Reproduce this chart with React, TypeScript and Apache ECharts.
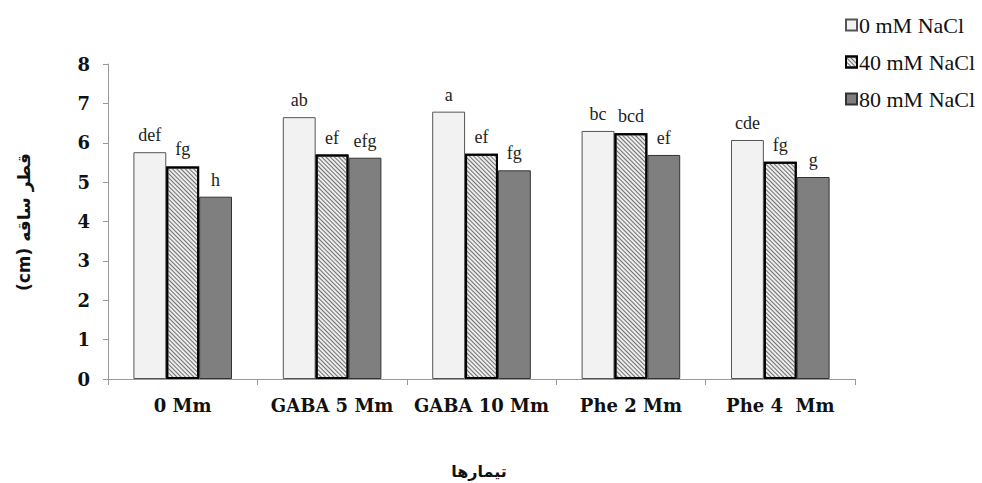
import React, { useEffect, useRef } from 'react';
import * as echarts from 'echarts';

const categories = ['0 Mm', 'GABA 5 Mm', 'GABA 10 Mm', 'Phe 2 Mm', 'Phe 4  Mm'];
const seriesNames = ['0 mM NaCl', '40 mM NaCl', '80 mM NaCl'];
const values0 = [5.76, 6.65, 6.79, 6.3, 6.07];
const values40 = [5.4, 5.7, 5.72, 6.24, 5.52];
const values80 = [4.63, 5.62, 5.3, 5.69, 5.13];
const letters0 = ['def', 'ab', 'a', 'bc', 'cde'];
const letters40 = ['fg', 'ef', 'ef', 'bcd', 'fg'];
const letters80 = ['h', 'efg', 'fg', 'ef', 'g'];
const yAxisTitle = '(cm) قطر ساقه';
const xAxisTitle = 'تیمارها';

const serif = "'Liberation Serif', 'Times New Roman', serif";
const boldSerif = "'DejaVu Serif', serif";

function App() {
  const ref = useRef<HTMLDivElement>(null);
  useEffect(() => {
    if (!ref.current) return;
    const chart = echarts.init(ref.current, null, { renderer: 'svg' });
    const mkLabel = (letters: string[]) => ({
      show: true,
      position: 'top',
      distance: 8,
      fontFamily: serif,
      fontSize: 18,
      color: '#222',
      formatter: (p: any) => letters[p.dataIndex],
    });
    chart.setOption({
      animation: false,
      backgroundColor: '#fff',
      grid: { left: 108, right: 127, top: 64, bottom: 104 },
      legend: {
        orient: 'vertical',
        left: 845,
        top: 14,
        itemWidth: 11,
        itemHeight: 11,
        itemGap: 15,
        padding: 0,
        icon: 'rect',
        textStyle: { fontFamily: serif, fontSize: 22, color: '#111', padding: [0, 0, 0, -3] },
        data: seriesNames,
      },
      xAxis: {
        type: 'category',
        data: categories,
        axisLine: { lineStyle: { color: '#9a9a9a', width: 1 } },
        axisTick: { show: true, length: 6, lineStyle: { color: '#9a9a9a' } },
        axisLabel: { interval: 0, fontFamily: boldSerif, fontSize: 18, fontWeight: 'bold', color: '#111', margin: 17 },
      },
      yAxis: {
        type: 'value',
        min: 0,
        max: 8,
        interval: 1,
        splitLine: { show: false },
        axisLine: { show: true, lineStyle: { color: '#9a9a9a', width: 1 } },
        axisTick: { show: true, length: 5, lineStyle: { color: '#9a9a9a' } },
        axisLabel: { fontFamily: boldSerif, fontSize: 18, fontWeight: 'bold', color: '#111', margin: 18 },
      },
      graphic: [
        {
          type: 'text',
          x: 24,
          y: 222,
          rotation: Math.PI / 2,
          style: {
            text: yAxisTitle,
            fontFamily: "'DejaVu Sans', sans-serif",
            fontSize: 17,
            fontWeight: 'bold',
            fill: '#111',
            textAlign: 'center',
            textVerticalAlign: 'middle',
          },
        },
        {
          type: 'text',
          x: 479,
          y: 471,
          style: {
            text: xAxisTitle,
            fontFamily: "'DejaVu Sans', sans-serif",
            fontSize: 16,
            fontWeight: 'bold',
            fill: '#111',
            textAlign: 'center',
            textVerticalAlign: 'middle',
          },
        },
      ],
      series: [
        {
          name: seriesNames[0],
          type: 'bar',
          data: values0,
          barGap: '0%',
          barCategoryGap: '34%',
          itemStyle: { color: '#f2f2f2', borderColor: '#555', borderWidth: 1 },
          label: mkLabel(letters0),
        },
        {
          name: seriesNames[1],
          type: 'bar',
          data: values40,
          barGap: '0%',
          barCategoryGap: '34%',
          itemStyle: {
            color: '#ececec',
            borderColor: '#000',
            borderWidth: 2,
            decal: {
              symbol: 'rect',
              symbolSize: 1,
              dashArrayX: [1, 0],
              dashArrayY: [1, 2],
              rotation: Math.PI / 4,
              color: '#707070',
            },
          },
          label: mkLabel(letters40),
        },
        {
          name: seriesNames[2],
          type: 'bar',
          data: values80,
          barGap: '0%',
          barCategoryGap: '34%',
          itemStyle: { color: '#7f7f7f', borderColor: '#333', borderWidth: 1 },
          label: mkLabel(letters80),
        },
      ],
    });
    return () => chart.dispose();
  }, []);
  return (
    <div
      ref={ref}
      style={{ position: 'absolute', left: 0, top: 0, width: 982, height: 483 }}
    />
  );
}

export default App;
